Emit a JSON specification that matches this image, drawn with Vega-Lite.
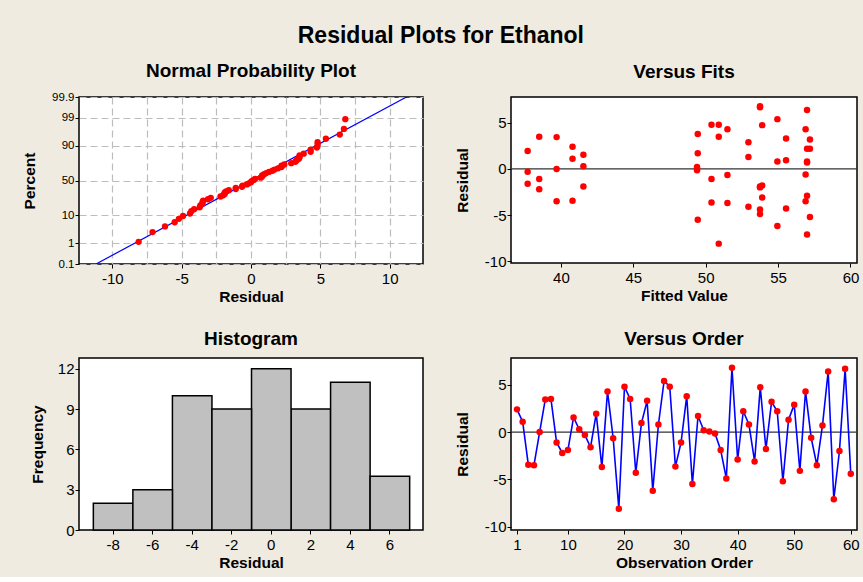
{
  "$schema": "https://vega.github.io/schema/vega-lite/v6.json",
  "background": "#EFEBE1",
  "padding": {"left": 21, "top": 24, "right": 5, "bottom": 5},
  "title": {"text": "Residual Plots for Ethanol", "fontSize": 23, "font": "Liberation Sans", "fontWeight": "bold", "color": "#000000", "anchor": "middle", "frame": "bounds", "offset": -4, "baseline": "alphabetic"},
  "datasets": {
    "resid": [
      {"order": 1, "fitted": 40.8, "residual": 2.4, "score": 0.593},
      {"order": 2, "fitted": 40.8, "residual": 1.1, "score": 0.273},
      {"order": 3, "fitted": 40.8, "residual": -3.45, "score": -0.749},
      {"order": 4, "fitted": 39.7, "residual": -3.5, "score": -0.865},
      {"order": 5, "fitted": 39.7, "residual": 0.0, "score": -0.062},
      {"order": 6, "fitted": 39.7, "residual": 3.45, "score": 0.805},
      {"order": 7, "fitted": 38.5, "residual": 3.5, "score": 0.865},
      {"order": 8, "fitted": 38.5, "residual": -1.1, "score": -0.316},
      {"order": 9, "fitted": 38.5, "residual": -2.2, "score": -0.593},
      {"order": 10, "fitted": 41.55, "residual": -1.9, "score": -0.497},
      {"order": 11, "fitted": 41.55, "residual": 1.55, "score": 0.36},
      {"order": 12, "fitted": 41.55, "residual": 0.3, "score": 0.062},
      {"order": 13, "fitted": 37.7, "residual": -0.3, "score": -0.146},
      {"order": 14, "fitted": 37.7, "residual": -1.6, "score": -0.36},
      {"order": 15, "fitted": 37.7, "residual": 1.95, "score": 0.451},
      {"order": 16, "fitted": 51.5, "residual": -3.7, "score": -0.992},
      {"order": 17, "fitted": 51.5, "residual": 4.3, "score": 1.062},
      {"order": 18, "fitted": 51.5, "residual": -0.65, "score": -0.23},
      {"order": 19, "fitted": 50.9, "residual": -8.1, "score": -2.27},
      {"order": 20, "fitted": 50.9, "residual": 4.8, "score": 1.314},
      {"order": 21, "fitted": 50.9, "residual": 3.5, "score": 0.926},
      {"order": 22, "fitted": 55.55, "residual": -4.3, "score": -1.138},
      {"order": 23, "fitted": 55.55, "residual": 0.95, "score": 0.23},
      {"order": 24, "fitted": 55.55, "residual": 3.3, "score": 0.749},
      {"order": 25, "fitted": 54.95, "residual": -6.2, "score": -1.698},
      {"order": 26, "fitted": 54.95, "residual": 0.8, "score": 0.146},
      {"order": 27, "fitted": 54.95, "residual": 5.4, "score": 1.544},
      {"order": 28, "fitted": 50.4, "residual": 4.8, "score": 1.42},
      {"order": 29, "fitted": 50.4, "residual": -3.65, "score": -0.926},
      {"order": 30, "fitted": 50.4, "residual": -1.1, "score": -0.273},
      {"order": 31, "fitted": 49.45, "residual": 3.8, "score": 0.992},
      {"order": 32, "fitted": 49.45, "residual": -5.5, "score": -1.544},
      {"order": 33, "fitted": 49.45, "residual": 1.7, "score": 0.405},
      {"order": 34, "fitted": 49.4, "residual": 0.2, "score": 0.021},
      {"order": 35, "fitted": 49.4, "residual": 0.05, "score": -0.021},
      {"order": 36, "fitted": 49.4, "residual": -0.15, "score": -0.104},
      {"order": 37, "fitted": 53.75, "residual": -1.9, "score": -0.451},
      {"order": 38, "fitted": 53.75, "residual": -4.9, "score": -1.314},
      {"order": 39, "fitted": 53.75, "residual": 6.8, "score": 2.27},
      {"order": 40, "fitted": 57.0, "residual": -2.9, "score": -0.643},
      {"order": 41, "fitted": 57.0, "residual": 2.2, "score": 0.497},
      {"order": 42, "fitted": 57.0, "residual": 0.8, "score": 0.188},
      {"order": 43, "fitted": 53.9, "residual": -3.1, "score": -0.695},
      {"order": 44, "fitted": 53.9, "residual": 4.75, "score": 1.222},
      {"order": 45, "fitted": 53.9, "residual": -1.8, "score": -0.405},
      {"order": 46, "fitted": 57.2, "residual": 3.2, "score": 0.695},
      {"order": 47, "fitted": 57.2, "residual": 2.2, "score": 0.545},
      {"order": 48, "fitted": 57.2, "residual": -5.2, "score": -1.42},
      {"order": 49, "fitted": 52.95, "residual": 1.3, "score": 0.316},
      {"order": 50, "fitted": 52.95, "residual": 2.9, "score": 0.643},
      {"order": 51, "fitted": 52.95, "residual": -4.1, "score": -1.062},
      {"order": 52, "fitted": 56.9, "residual": 4.3, "score": 1.138},
      {"order": 53, "fitted": 56.9, "residual": -0.6, "score": -0.188},
      {"order": 54, "fitted": 56.9, "residual": -3.5, "score": -0.805},
      {"order": 55, "fitted": 57.0, "residual": 0.7, "score": 0.104},
      {"order": 56, "fitted": 57.0, "residual": 6.4, "score": 1.698},
      {"order": 57, "fitted": 57.0, "residual": -7.1, "score": -1.909},
      {"order": 58, "fitted": 53.75, "residual": -2.0, "score": -0.545},
      {"order": 59, "fitted": 53.75, "residual": 6.7, "score": 1.909},
      {"order": 60, "fitted": 53.75, "residual": -4.4, "score": -1.222}
    ],
    "fitline": [
      {"residual": -11.17, "score": -3.09},
      {"residual": 11.21, "score": 3.09}
    ]
  },
  "bounds": "flush",
  "columns": 2,
  "spacing": {"row": 94, "column": 88},
  "concat": [
    {
      "width": 344,
      "height": 167,
      "title": {"text": "Normal Probability Plot", "offset": 9.7},
      "encoding": {
        "x": {"field": "residual", "type": "quantitative", "scale": {"domain": [-12.4, 12.4], "nice": false, "zero": false},
          "axis": {"title": "Residual", "values": [-10, -7.5, -5, -2.5, 0, 2.5, 5, 7.5, 10], "grid": true, "gridColor": "#BDBDBD", "gridDash": [7, 4], "gridWidth": 1.2,
            "labelExpr": "datum.value % 5 == 0 ? '' + datum.value : ''",
            "tickOpacity": {"condition": {"test": "datum.value % 5 == 0", "value": 1}, "value": 0}}},
        "y": {"field": "score", "type": "quantitative", "scale": {"domain": [-3.0902, 3.0902], "nice": false, "zero": false},
          "axis": {"title": "Percent", "values": [-3.0902, -2.3263, -1.2816, 0, 1.2816, 2.3263, 3.0902], "grid": true, "gridColor": "#BDBDBD", "gridDash": [7, 4], "gridWidth": 1.2, "labelFontSize": 11.5, "titlePadding": 14,
            "labelExpr": "datum.value < -3 ? '0.1' : datum.value < -2 ? '1' : datum.value < -1 ? '10' : datum.value < 1 ? '50' : datum.value < 2 ? '90' : datum.value < 3 ? '99' : '99.9'"}}
      },
      "layer": [
        {"data": {"name": "fitline"}, "mark": {"type": "line", "color": "#0000FF", "strokeWidth": 1.2, "clip": true}},
        {"data": {"name": "resid"}, "mark": {"type": "circle", "color": "#FF0000", "size": 40, "opacity": 1}}
      ]
    },
    {
      "width": 346,
      "height": 166,
      "title": {"text": "Versus Fits", "offset": 15.5},
      "layer": [
        {"data": {"values": [{}]}, "mark": {"type": "rule", "color": "#333333", "strokeWidth": 1.3},
          "encoding": {"y": {"datum": 0, "type": "quantitative", "title": "Residual"}}},
        {"data": {"name": "resid"}, "mark": {"type": "circle", "color": "#FF0000", "size": 42, "opacity": 1},
          "encoding": {
            "x": {"field": "fitted", "type": "quantitative", "scale": {"domain": [36.55, 60.45], "nice": false, "zero": false}, "axis": {"title": "Fitted Value", "values": [40, 45, 50, 55, 60]}},
            "y": {"field": "residual", "type": "quantitative", "title": "Residual", "scale": {"domain": [-10.2, 7.8], "nice": false, "zero": false}, "axis": {"values": [-10, -5, 0, 5], "labelExpr": "'' + datum.value", "titlePadding": 14}}
          }}
      ]
    },
    {
      "width": 344,
      "height": 172,
      "title": {"text": "Histogram", "offset": 9.5},
      "data": {"name": "resid"},
      "mark": {"type": "bar", "color": "#C0C0C0", "stroke": "#000000", "strokeWidth": 1.5, "binSpacing": 0},
      "encoding": {
        "x": {"field": "residual", "type": "quantitative", "bin": {"extent": [-9, 7], "step": 2, "nice": false}, "scale": {"domain": [-9.7, 7.7], "nice": false, "zero": false},
          "axis": {"title": "Residual", "values": [-8, -6, -4, -2, 0, 2, 4, 6], "labelExpr": "'' + datum.value"}},
        "y": {"aggregate": "count", "type": "quantitative", "scale": {"domain": [0, 12.8], "nice": false}, "axis": {"title": "Frequency", "values": [0, 3, 6, 9, 12]}}
      }
    },
    {
      "width": 346,
      "height": 172,
      "title": {"text": "Versus Order", "offset": 9.5},
      "layer": [
        {"data": {"values": [{}]}, "mark": {"type": "rule", "color": "#333333", "strokeWidth": 1.3},
          "encoding": {"y": {"datum": 0, "type": "quantitative", "title": "Residual"}}},
        {"data": {"name": "resid"}, "mark": {"type": "line", "color": "#0000FF", "strokeWidth": 1.6},
          "encoding": {
            "x": {"field": "order", "type": "quantitative", "title": "Observation Order", "scale": {"domain": [-0.06, 61.1], "nice": false, "zero": false}, "axis": {"values": [1, 5, 10, 15, 20, 25, 30, 35, 40, 45, 50, 55, 60]}},
            "y": {"field": "residual", "type": "quantitative", "title": "Residual", "scale": {"domain": [-10.35, 7.83], "nice": false, "zero": false}, "axis": {"values": [-10, -5, 0, 5], "labelExpr": "'' + datum.value", "titlePadding": 14}}
          }},
        {"data": {"name": "resid"}, "mark": {"type": "circle", "color": "#FF0000", "size": 42, "opacity": 1},
          "encoding": {
            "x": {"field": "order", "type": "quantitative", "title": "Observation Order"},
            "y": {"field": "residual", "type": "quantitative", "title": "Residual"}
          }}
      ]
    }
  ],
  "config": {
    "font": "Liberation Sans",
    "view": {"stroke": "#000000", "strokeWidth": 1.5, "fill": "#FFFFFF"},
    "axis": {"domain": false, "grid": false, "tickColor": "#000000", "tickSize": 4, "tickWidth": 1, "labelColor": "#000000", "labelFontSize": 15, "labelFont": "Liberation Sans", "labelFlush": false, "labelOverlap": false, "titleFont": "Liberation Sans", "titleFontSize": 15.5, "titleFontWeight": "bold", "titleColor": "#000000", "labelPadding": 3},
    "axisX": {"titlePadding": 3},
    "axisY": {"labelPadding": 1, "titlePadding": 12},
    "title": {"fontSize": 19, "fontWeight": "bold", "color": "#000000", "font": "Liberation Sans", "baseline": "alphabetic"}
  }
}
